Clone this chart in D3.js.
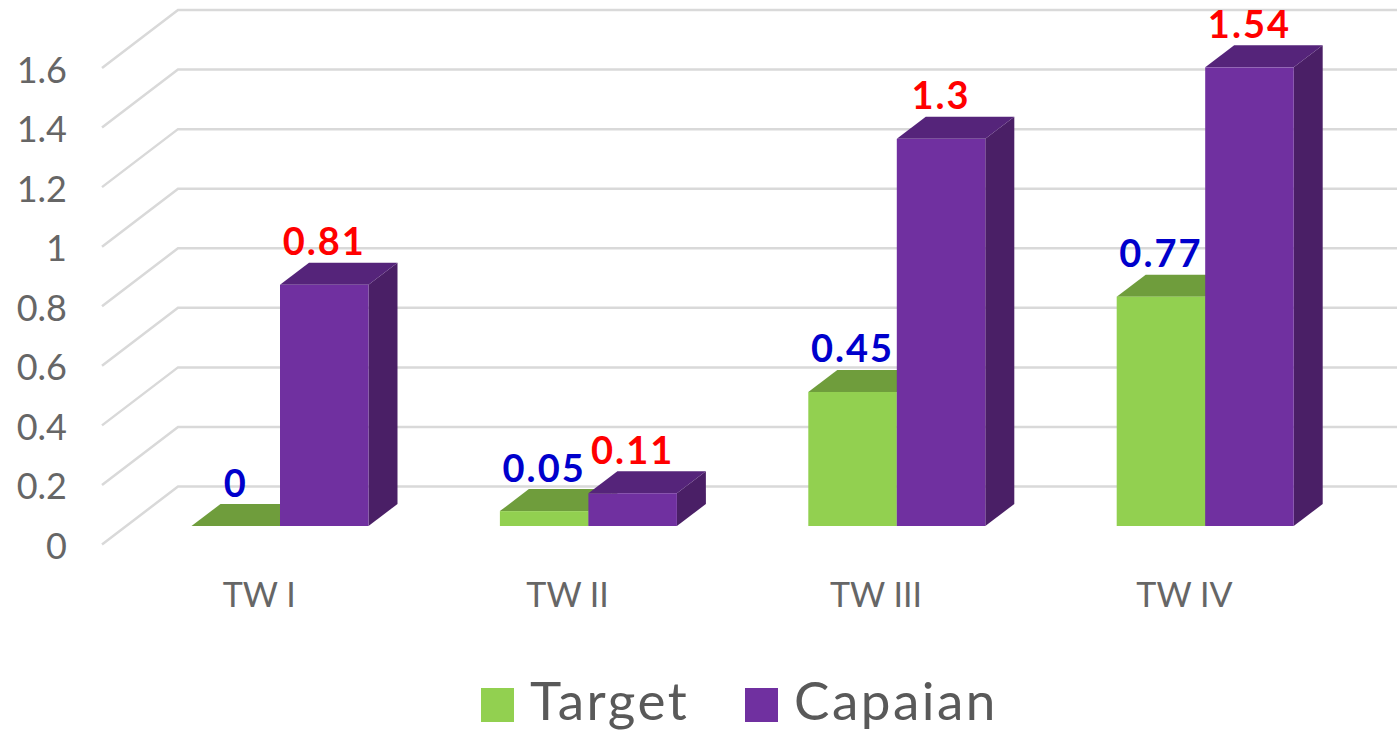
<!DOCTYPE html>
<html>
<head>
<meta charset="utf-8">
<script src="https://cdn.jsdelivr.net/npm/d3@7"></script>
<style>
  body { margin: 0; background: #fff; }
  svg { display: block; }
  text { font-family: Lato, "Open Sans", sans-serif; }
</style>
</head>
<body>
<div class="chart"></div>
<script>
// Chart data
var categories = ["TW I", "TW II", "TW III", "TW IV"];
var seriesNames = ["Target", "Capaian"];
var targetValues = [0, 0.05, 0.45, 0.77];
var capaianValues = [0.81, 0.11, 1.3, 1.54];
var yTicks = [0, 0.2, 0.4, 0.6, 0.8, 1, 1.2, 1.4, 1.6];

var svgWidth = 1397;
var svgHeight = 732;

var svg = d3.select(".chart")
  .append("svg")
  .attr("width", svgWidth)
  .attr("height", svgHeight);

// Depth of the chart walls and of the bars
var depthX = 76;
var depthY = -58;
var barDepthX = 29;
var barDepthY = -22;
var yBase = 526;
var barWidth = 88.5;

var yScale = d3.scaleLinear()
  .domain([0, 1.6])
  .range([544.5, 68]);

var xScale = d3.scaleBand()
  .domain(categories)
  .range([112, 1345.6]);

// left edge of each bar relative to the group
var barOffset = d3.scaleOrdinal()
  .domain(seriesNames)
  .range([79.5, 168]);

var colors = {
  Target: { front: "#92d050", top: "#6f9d3c", side: "#6f9d3c" },
  Capaian: { front: "#7030a0", top: "#55247a", side: "#4a1f66" }
};

// Gridlines: slanted part on the left wall, then straight along the back
svg.append("g").selectAll("path")
  .data(yTicks)
  .enter()
  .append("path")
  .attr("d", d => `M102,${yScale(d)} L${102 + depthX},${yScale(d) + depthY} L${svgWidth},${yScale(d) + depthY}`)
  .attr("fill", "none")
  .attr("stroke", "#d9d9d9")
  .attr("stroke-width", 2.5);

// Y axis, labels only
var leftAxis = d3.axisLeft(yScale)
  .tickValues(yTicks)
  .tickFormat(d => d)
  .tickSize(0)
  .tickPadding(0);

var yAxisGroup = svg.append("g")
  .attr("transform", "translate(67, 0)")
  .call(leftAxis);
yAxisGroup.select(".domain").remove();
yAxisGroup.selectAll("text")
  .attr("dy", 14)
  .attr("font-size", 36)
  .attr("fill", "#666666")
  .style("font-family", "Lato, sans-serif");

// X axis, labels only
var bottomAxis = d3.axisBottom(xScale)
  .tickSize(0)
  .tickPadding(0);

var xAxisGroup = svg.append("g")
  .attr("transform", "translate(-7, 578)")
  .call(bottomAxis);
xAxisGroup.select(".domain").remove();
xAxisGroup.selectAll("text")
  .attr("dy", 29)
  .attr("font-size", 34)
  .attr("fill", "#666666")
  .style("font-family", "Lato, sans-serif");

// Bars, drawn per group so the purple one overlaps the green side face
function drawBar(name, cat, value) {
  var c = colors[name];
  var x0 = xScale(cat) + barOffset(name);
  var x1 = x0 + barWidth;
  var yTop = yBase - (yScale(0) - yScale(value));
  var g = svg.append("g").attr("class", "bar");

  g.append("path")
    .attr("d", `M${x1},${yBase} L${x1 + barDepthX},${yBase + barDepthY} L${x1 + barDepthX},${yTop + barDepthY} L${x1},${yTop} Z`)
    .attr("fill", c.side);
  g.append("path")
    .attr("d", `M${x0},${yTop} L${x0 + barDepthX},${yTop + barDepthY} L${x1 + barDepthX},${yTop + barDepthY} L${x1},${yTop} Z`)
    .attr("fill", c.top);
  g.append("rect")
    .attr("x", x0)
    .attr("y", yTop)
    .attr("width", barWidth)
    .attr("height", yBase - yTop)
    .attr("fill", c.front);
}

categories.forEach(function(cat, i) {
  drawBar("Target", cat, targetValues[i]);
  drawBar("Capaian", cat, capaianValues[i]);
});

// Value labels
function drawLabels(name, values, color) {
  svg.append("g").selectAll("text")
    .data(values)
    .enter()
    .append("text")
    .attr("x", (d, i) => xScale(categories[i]) + barOffset(name) + barWidth / 2)
    .attr("y", d => yBase - (yScale(0) - yScale(d)) - 29.5)
    .attr("text-anchor", "middle")
    .attr("font-size", 38)
    .attr("font-weight", "bold")
    .attr("letter-spacing", 2)
    .attr("fill", color)
    .text(d => d);
}
drawLabels("Target", targetValues, "#0000cc");
drawLabels("Capaian", capaianValues, "#ff0000");

// Legend
var legendX = [481, 745];
seriesNames.forEach(function(name, i) {
  svg.append("rect")
    .attr("x", legendX[i])
    .attr("y", 688)
    .attr("width", 33)
    .attr("height", 34)
    .attr("fill", colors[name].front);
  svg.append("text")
    .attr("x", legendX[i] + 49)
    .attr("y", 720)
    .attr("font-size", 53)
    .attr("letter-spacing", 2.5)
    .attr("fill", "#595959")
    .text(name);
});
</script>
</body>
</html>
